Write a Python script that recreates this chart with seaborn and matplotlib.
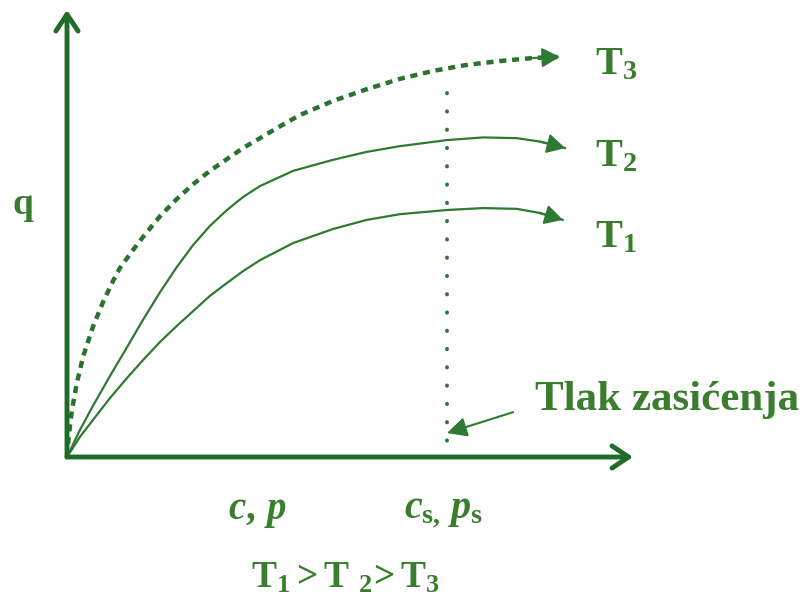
import numpy as np
import pandas as pd
import seaborn as sns
import matplotlib.pyplot as plt

# isotherm curves (relative units, c_s = 10)
x_t3 = [0, 0.05, 0.13, 0.26, 0.42, 0.68, 0.95, 1.21, 1.39, 1.74, 2.0, 2.45, 2.89, 3.32,
        3.76, 4.21, 4.63, 5.08, 5.53, 6.13, 7.0, 7.89, 8.76, 9.63, 10.53, 11.39, 12.26, 12.97]
q_t3 = [0, 0.58, 1.24, 1.95, 2.63, 3.42, 4.08, 4.63, 4.97, 5.45, 5.79, 6.34, 6.79, 7.18,
        7.53, 7.84, 8.13, 8.39, 8.66, 9.0, 9.37, 9.68, 9.95, 10.16, 10.32, 10.42, 10.5, 10.53]

x_t2 = [0, 0.34, 0.68, 1.13, 1.58, 2.0, 2.45, 2.89, 3.32, 3.76, 4.21, 4.63, 5.08,
        5.95, 7.0, 7.89, 8.76, 10.0, 10.95, 11.84, 12.45, 13.11]
q_t2 = [0, 0.71, 1.34, 2.13, 2.89, 3.61, 4.34, 5.0, 5.58, 6.08, 6.5, 6.84, 7.13,
        7.53, 7.82, 8.03, 8.18, 8.34, 8.41, 8.39, 8.3, 8.13]

x_t1 = [0, 0.34, 0.68, 1.13, 1.58, 2.0, 2.45, 2.89, 3.32, 3.76, 4.21, 4.63, 5.08,
        5.95, 7.0, 7.89, 8.76, 10.0, 10.95, 11.84, 12.45, 13.05]
q_t1 = [0, 0.53, 0.97, 1.55, 2.08, 2.55, 3.03, 3.45, 3.84, 4.24, 4.58, 4.89, 5.18,
        5.63, 6.0, 6.24, 6.39, 6.5, 6.55, 6.53, 6.42, 6.24]

c_sat = 10.0
q_sat_top = 9.58
curve_labels = ['T$_3$', 'T$_2$', 'T$_1$']

sns.set_theme(style='white')
plt.rcParams['font.family'] = ['Liberation Serif', 'DejaVu Serif']
plt.rcParams['font.weight'] = 'bold'
plt.rcParams['mathtext.fontset'] = 'custom'
plt.rcParams['mathtext.rm'] = 'Liberation Serif:bold'
plt.rcParams['mathtext.it'] = 'Liberation Serif:bold:italic'
plt.rcParams['mathtext.bf'] = 'Liberation Serif:bold'

green = '#2f7a32'
dash_green = '#2a7230'
axis_green = '#1f6b27'
text_green = '#3b7d2e'

fig = plt.figure(figsize=(8.02, 6.05), dpi=100)
ax = fig.add_axes([0, 0, 1, 1])
ax.set_xlim(-67 / 38, 735 / 38)
ax.set_ylim(-148 / 38, 457 / 38)
ax.axis('off')

df3 = pd.DataFrame({'x': x_t3, 'q': q_t3})
df2 = pd.DataFrame({'x': x_t2, 'q': q_t2})
df1 = pd.DataFrame({'x': x_t1, 'q': q_t1})

sns.lineplot(data=df3, x='x', y='q', ax=ax, color=dash_green, lw=3.2,
             linestyle=(0, (1.6, 1.3)))
sns.lineplot(data=df2, x='x', y='q', ax=ax, color=green, lw=1.6)
sns.lineplot(data=df1, x='x', y='q', ax=ax, color=green, lw=1.6)

# arrow heads at the ends of the curves
for d in (df3, df2, df1):
    ax.annotate('', xy=(d.x.iloc[-1], d.q.iloc[-1]), xytext=(d.x.iloc[-2], d.q.iloc[-2]),
                arrowprops=dict(arrowstyle='-|>,head_length=0.55,head_width=0.3',
                                color=green, lw=1.5, mutation_scale=20,
                                shrinkA=0, shrinkB=0))

# saturation line, drawn top-down so the first dot sits at the top
ax.plot([c_sat, c_sat], [q_sat_top, 0], color=green, lw=2.8,
        linestyle=(0, (0.1, 4.6)), dash_capstyle='round')

# axes with arrows
ax.annotate('', xy=(566 / 38, 0), xytext=(0, 0),
            arrowprops=dict(arrowstyle='->,head_length=0.6,head_width=0.4',
                            color=axis_green, lw=3.5, mutation_scale=20,
                            shrinkA=0, shrinkB=0))
ax.annotate('', xy=(0, 447 / 38), xytext=(0, 0),
            arrowprops=dict(arrowstyle='->,head_length=0.6,head_width=0.4',
                            color=axis_green, lw=3.5, mutation_scale=20,
                            shrinkA=0, shrinkB=0))

# pointer to saturation pressure
ax.annotate('', xy=(c_sat, 0.63), xytext=(11.74, 1.18),
            arrowprops=dict(arrowstyle='-|>,head_length=0.6,head_width=0.3',
                            color=green, lw=1.5, mutation_scale=20,
                            shrinkA=0, shrinkB=0))

def fx(px):
    return px / 802

def fy(py):
    return 1 - py / 605

for lab, py in zip(curve_labels, [65, 157, 238]):
    fig.text(fx(595), fy(py), lab, fontsize=29, color=text_green, va='center', ha='left')

fig.text(fx(23), fy(205), 'q', fontsize=27, color=text_green, ha='center', va='center')
fig.text(fx(535), fy(400), 'Tlak zasićenja', fontsize=31, color=text_green,
         ha='left', va='center')
fig.text(fx(257), fy(512), r'$c,\,p$', fontsize=28, color=text_green, ha='center', va='center')
fig.text(fx(443), fy(512), r'$c_{\mathrm{s,}}\,p_{\mathrm{s}}$', fontsize=29,
         color=text_green, ha='center', va='center')
fig.text(fx(346), fy(578), r'$\mathrm{T_1 > T\ _2\!> T_3}$', fontsize=27,
         color=text_green, ha='center', va='center')

fig.savefig('out.png', dpi=100, facecolor='white')
